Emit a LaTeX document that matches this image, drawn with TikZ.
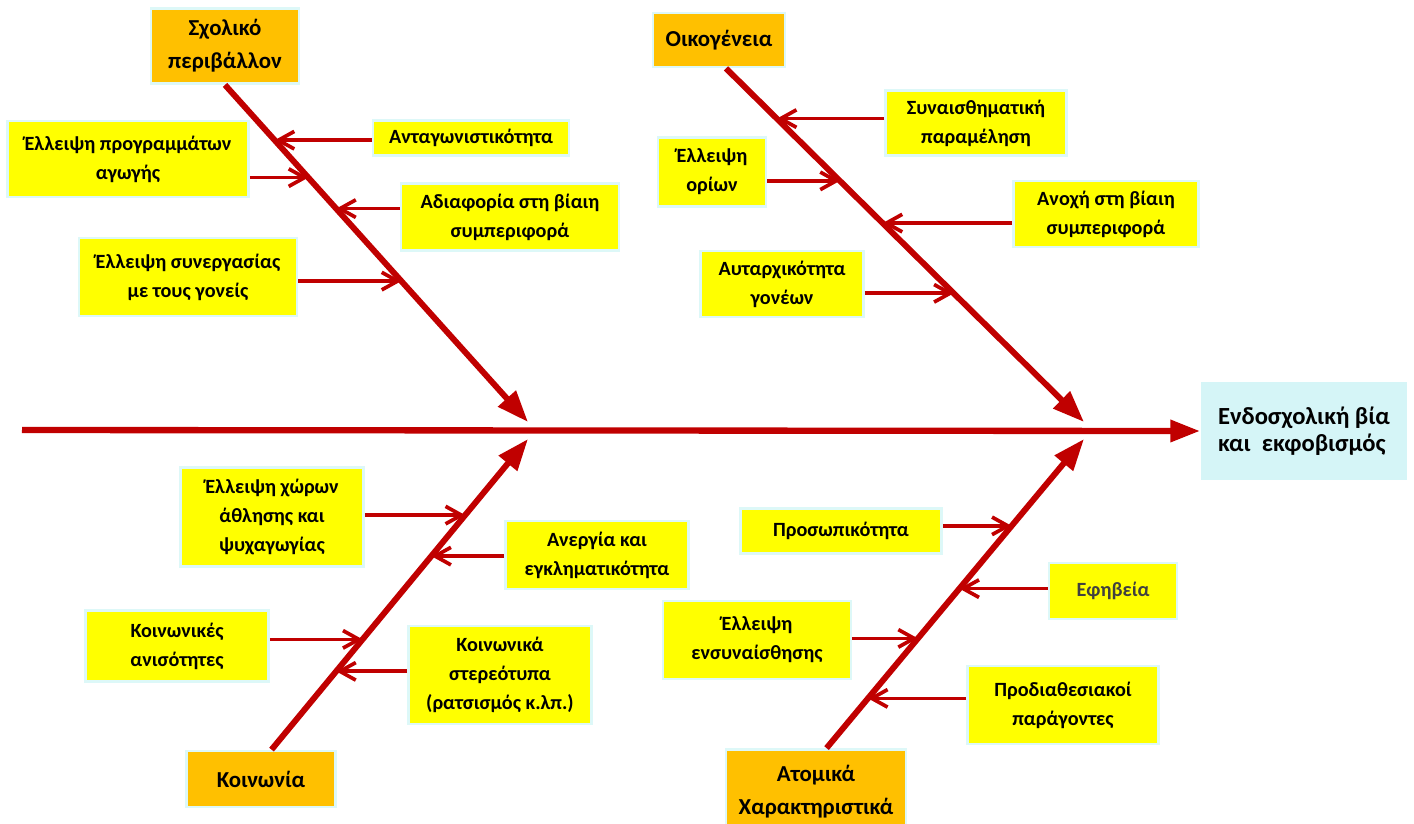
\documentclass[tikz,border=0pt]{standalone}
\usepackage{fontspec}
\setmainfont{Carlito}
\usetikzlibrary{arrows.meta,calc}

\definecolor{bonered}{HTML}{C00000}
\definecolor{causefill}{HTML}{FFFF00}
\definecolor{groupfill}{HTML}{FFC000}
\definecolor{rimcyan}{HTML}{DDF8F8}
\definecolor{effectfill}{HTML}{D5F5F7}
\definecolor{greytext}{HTML}{404040}

\begin{document}
\begin{tikzpicture}[x=0.02cm, y=-0.02cm,
    cause/.style={draw=rimcyan, line width=1.6pt, fill=causefill, align=center,
        inner sep=2pt, font=\bfseries\fontsize{11.5}{16.5}\selectfont},
    group/.style={draw=rimcyan, line width=1.6pt, fill=groupfill, align=center,
        inner sep=2pt, font=\bfseries\fontsize{13}{18.7}\selectfont},
    effect/.style={fill=effectfill, align=left, inner sep=2pt,
        font=\bfseries\fontsize{14}{15.5}\selectfont},
    spine/.style={draw=bonered, line width=3.6pt, -{Triangle[length=17pt, width=12pt]}},
    bone/.style={draw=bonered, line width=3.4pt, -{Triangle[length=18pt, width=13pt]}},
    twig/.style={draw=bonered, line width=2.1pt, -{Straight Barb[length=9pt, width=10pt]}}]
    \useasboundingbox (0,0) rectangle (1414,823);

    \node[effect, minimum width=4.14cm, minimum height=1.96cm] (effect) at (1304,431) {Ενδοσχολική βία\\και~ εκφοβισμός};
    \coordinate (tail) at (22,430);
    \draw[spine] (tail) -- (effect.west);

    \node[group, minimum width=2.96cm, minimum height=1.5cm] (school) at (225,46) {Σχολικό\\περιβάλλον};
    \node[group, minimum width=2.64cm, minimum height=1.08cm] (family) at (719,40) {Οικογένεια};
    \node[group, minimum width=2.98cm, minimum height=1.12cm] (society) at (261,779) {Κοινωνία};
    \node[group, minimum width=3.6cm, minimum height=1.7cm] (person) at (816,792) {Ατομικά\\Χαρακτηριστικά};

    \coordinate (s1) at (school.south);
    \coordinate (s2) at ([xshift=4pt]family.south);
    \coordinate (s3) at ([xshift=6pt]society.north);
    \coordinate (s4) at ([xshift=6pt]person.north);
    \coordinate (h1) at (528,422);
    \coordinate (h2) at (1084,422);
    \coordinate (h3) at (528,439);
    \coordinate (h4) at (1084,439);
    \draw[bone] (s1) -- (h1);
    \draw[bone] (s2) -- (h2);
    \draw[bone] (s3) -- (h3);
    \draw[bone] (s4) -- (h4);

    \node[cause, minimum width=3.92cm, minimum height=0.7cm] (rivalry) at (471,138) {Ανταγωνιστικότητα};
    \node[cause, minimum width=4.82cm, minimum height=1.52cm] (noprog) at (128,159) {Έλλειψη προγραμμάτων\\αγωγής};
    \node[cause, minimum width=4.36cm, minimum height=1.34cm] (apathy) at (510,217) {Αδιαφορία στη βίαιη\\συμπεριφορά};
    \node[cause, minimum width=4.36cm, minimum height=1.56cm] (nocoop) at (188,277) {Έλλειψη συνεργασίας\\με τους γονείς};
    \coordinate (p11) at ($(s1)!0.164!(h1)$);
    \coordinate (p12) at ($(s1)!0.275!(h1)$);
    \coordinate (p13) at ($(s1)!0.367!(h1)$);
    \coordinate (p14) at ($(s1)!0.582!(h1)$);
    \draw[twig] (rivalry.west |- p11) -- (p11);
    \draw[twig] (noprog.east |- p12) -- (p12);
    \draw[twig] (apathy.west |- p13) -- (p13);
    \draw[twig] (nocoop.east |- p14) -- (p14);

    \node[cause, minimum width=3.62cm, minimum height=1.3cm] (neglect) at (976,123) {Συναισθηματική\\παραμέληση};
    \node[cause, minimum width=2.16cm, minimum height=1.38cm] (nolimits) at (712,172) {Έλλειψη\\ορίων};
    \node[cause, minimum width=3.7cm, minimum height=1.32cm] (tolerance) at (1106,214) {Ανοχή στη βίαιη\\συμπεριφορά};
    \node[cause, minimum width=3.26cm, minimum height=1.32cm] (authority) at (782,284) {Αυταρχικότητα\\γονέων};
    \coordinate (p21) at ($(s2)!0.142!(h2)$);
    \coordinate (p22) at ($(s2)!0.318!(h2)$);
    \coordinate (p23) at ($(s2)!0.4375!(h2)$);
    \coordinate (p24) at ($(s2)!0.636!(h2)$);
    \draw[twig] (neglect.west |- p21) -- (p21);
    \draw[twig] (nolimits.east |- p22) -- (p22);
    \draw[twig] (tolerance.west |- p23) -- (p23);
    \draw[twig] (authority.east |- p24) -- (p24);

    \node[cause, minimum width=3.66cm, minimum height=1.98cm] (nosport) at (272,517) {Έλλειψη χώρων\\άθλησης και\\ψυχαγωγίας};
    \node[cause, minimum width=3.66cm, minimum height=1.36cm] (unemploy) at (597,555) {Ανεργία και\\εγκληματικότητα};
    \node[cause, minimum width=3.66cm, minimum height=1.42cm] (inequal) at (177,646) {Κοινωνικές\\ανισότητες};
    \node[cause, minimum width=3.66cm, minimum height=1.96cm] (stereo) at (500,675) {Κοινωνικά\\στερεότυπα\\(ρατσισμός κ.λπ.)};
    \coordinate (p31) at ($(s3)!0.755!(h3)$);
    \coordinate (p32) at ($(s3)!0.623!(h3)$);
    \coordinate (p33) at ($(s3)!0.355!(h3)$);
    \coordinate (p34) at ($(s3)!0.252!(h3)$);
    \draw[twig] (nosport.east |- p31) -- (p31);
    \draw[twig] (unemploy.west |- p32) -- (p32);
    \draw[twig] (inequal.east |- p33) -- (p33);
    \draw[twig] (stereo.west |- p34) -- (p34);

    \node[cause, minimum width=4.02cm, minimum height=0.9cm] (personality) at (841,531) {Προσωπικότητα};
    \node[cause, minimum width=2.56cm, minimum height=1.12cm, text=greytext] (puberty) at (1113,591) {Εφηβεία};
    \node[cause, minimum width=3.76cm, minimum height=1.56cm] (noempathy) at (757,640) {Έλλειψη\\ενσυναίσθησης};
    \node[cause, minimum width=3.82cm, minimum height=1.56cm] (predispos) at (1063,705) {Προδιαθεσιακοί\\παράγοντες};
    \coordinate (p41) at ($(s4)!0.719!(h4)$);
    \coordinate (p42) at ($(s4)!0.516!(h4)$);
    \coordinate (p43) at ($(s4)!0.355!(h4)$);
    \coordinate (p44) at ($(s4)!0.161!(h4)$);
    \draw[twig] (personality.east |- p41) -- (p41);
    \draw[twig] (puberty.west |- p42) -- (p42);
    \draw[twig] (noempathy.east |- p43) -- (p43);
    \draw[twig] (predispos.west |- p44) -- (p44);
\end{tikzpicture}
\end{document}
